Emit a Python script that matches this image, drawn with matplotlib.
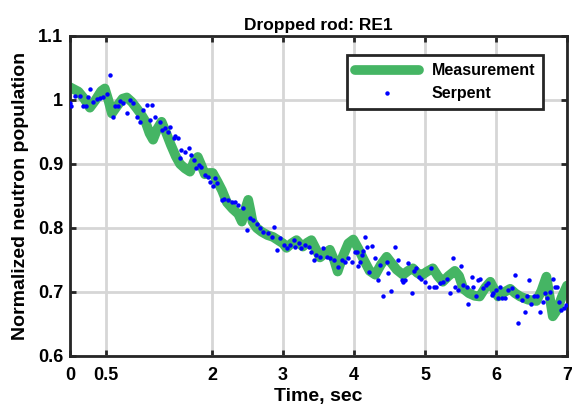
import matplotlib
matplotlib.use("Agg")
import matplotlib.pyplot as plt
import numpy as np

# Measurement (thick green curve)
meas_t = [0.00, 0.12, 0.20, 0.28, 0.36, 0.44, 0.49, 0.54, 0.59, 0.66, 0.74, 0.80, 0.87, 0.94,
          1.00, 1.06, 1.12, 1.17, 1.23, 1.29, 1.35, 1.42, 1.49, 1.55, 1.62, 1.69, 1.75, 1.80,
          1.85, 1.90, 1.96, 2.01, 2.08, 2.14, 2.21, 2.29, 2.37, 2.42, 2.47, 2.51, 2.54, 2.57,
          2.63, 2.70, 2.78, 2.86, 2.93, 3.00, 3.05, 3.12, 3.19, 3.24, 3.28, 3.34, 3.40, 3.46,
          3.52, 3.59, 3.66, 3.72, 3.77, 3.84, 3.92, 3.99, 4.06, 4.13, 4.22, 4.30, 4.38, 4.46,
          4.53, 4.60, 4.69, 4.76, 4.83, 4.89, 4.95, 5.03, 5.11, 5.18, 5.25, 5.33, 5.42, 5.48,
          5.54, 5.62, 5.70, 5.77, 5.85, 5.92, 5.98, 6.03, 6.12, 6.20, 6.27, 6.34, 6.45, 6.57,
          6.64, 6.71, 6.76, 6.80, 6.86, 6.93, 7.00]
meas_v = [1.020, 1.013, 1.002, 0.988, 1.000, 1.014, 1.018, 1.000, 0.979, 0.990, 1.002, 1.004, 0.997, 0.987,
          0.978, 0.967, 0.948, 0.938, 0.955, 0.966, 0.950, 0.930, 0.912, 0.900, 0.893, 0.888, 0.905, 0.911,
          0.898, 0.884, 0.886, 0.886, 0.872, 0.859, 0.840, 0.830, 0.822, 0.810, 0.830, 0.844, 0.828, 0.810,
          0.800, 0.794, 0.789, 0.786, 0.781, 0.776, 0.769, 0.776, 0.781, 0.775, 0.771, 0.777, 0.781, 0.768,
          0.754, 0.760, 0.766, 0.750, 0.732, 0.755, 0.776, 0.782, 0.768, 0.752, 0.733, 0.727, 0.743, 0.755,
          0.745, 0.735, 0.727, 0.733, 0.737, 0.730, 0.726, 0.732, 0.737, 0.725, 0.716, 0.725, 0.733, 0.725,
          0.705, 0.698, 0.694, 0.693, 0.707, 0.716, 0.703, 0.693, 0.700, 0.705, 0.698, 0.693, 0.688, 0.686,
          0.702, 0.724, 0.690, 0.662, 0.672, 0.693, 0.710]

# Serpent (blue dots)
serp_t = [0.00, 0.02, 0.07, 0.14, 0.19, 0.22, 0.26, 0.28, 0.33, 0.38, 0.42, 0.47, 0.52, 0.56, 0.60,
          0.63, 0.67, 0.70, 0.75, 0.80, 0.85, 0.89, 0.94, 0.99, 1.03, 1.08, 1.13, 1.16, 1.20, 1.27,
          1.29, 1.34, 1.38, 1.41, 1.46,
          1.48, 1.52, 1.55, 1.57, 1.62, 1.67, 1.70, 1.74, 1.78, 1.81, 1.85, 1.90, 1.94, 1.97, 2.02,
          2.04, 2.07, 2.14, 2.17, 2.23, 2.28, 2.32, 2.37, 2.43, 2.49, 2.54, 2.58, 2.63,
          2.68, 2.72, 2.79, 2.84, 2.87, 2.91, 2.96, 3.01, 3.05, 3.10, 3.15, 3.17, 3.22, 3.26, 3.31,
          3.36, 3.40, 3.43, 3.47, 3.52, 3.57, 3.62, 3.66, 3.72, 3.78, 3.83, 3.87, 3.92, 3.97,
          4.01, 4.04, 4.06, 4.08, 4.11, 4.13, 4.15, 4.18, 4.21, 4.25, 4.30, 4.34, 4.37, 4.41, 4.46,
          4.48, 4.52, 4.58, 4.62, 4.67, 4.69, 4.72, 4.76, 4.81, 4.84, 4.88, 4.92, 4.95, 5.00, 5.05,
          5.08, 5.12, 5.16, 5.21, 5.26, 5.31, 5.35, 5.40, 5.42, 5.47, 5.51,
          5.54, 5.59, 5.61, 5.66, 5.68, 5.72, 5.75, 5.78, 5.82, 5.86, 5.89, 5.94, 5.96, 6.00, 6.03,
          6.06, 6.09, 6.13, 6.17, 6.22, 6.27, 6.29, 6.31, 6.36, 6.41, 6.43, 6.46, 6.49, 6.54, 6.58,
          6.62, 6.66, 6.69, 6.72, 6.76, 6.80, 6.83, 6.86, 6.89, 6.92, 6.96, 6.99]
serp_v = [0.995, 0.990, 1.006, 1.006, 0.990, 0.990, 1.004, 1.017, 0.997, 1.001, 1.003, 1.005, 1.009, 1.039, 0.974,
          0.991, 0.990, 0.999, 0.995, 0.979, 1.000, 0.996, 0.974, 0.966, 0.984, 0.992, 0.969, 0.992, 0.974, 0.966,
          0.953, 0.956, 0.950, 0.958, 0.940,
          0.943, 0.940, 0.909, 0.922, 0.919, 0.925, 0.914, 0.906, 0.893, 0.898, 0.896, 0.883, 0.880, 0.872, 0.865,
          0.878, 0.870, 0.844, 0.846, 0.844, 0.841, 0.841, 0.836, 0.832, 0.797, 0.815, 0.813, 0.807,
          0.800, 0.794, 0.792, 0.786, 0.801, 0.766, 0.784, 0.773, 0.768, 0.773, 0.781, 0.771, 0.776, 0.768, 0.773,
          0.771, 0.763, 0.750, 0.758, 0.755, 0.768, 0.755, 0.753, 0.750, 0.739, 0.750, 0.747, 0.753, 0.747,
          0.763, 0.763, 0.740, 0.747, 0.758, 0.764, 0.786, 0.771, 0.732, 0.772, 0.753, 0.719, 0.742, 0.693, 0.747,
          0.729, 0.701, 0.770, 0.750, 0.719, 0.716, 0.719, 0.745, 0.698, 0.733, 0.738, 0.724, 0.721, 0.716, 0.708,
          0.737, 0.708, 0.708, 0.714, 0.716, 0.721, 0.698, 0.753, 0.708, 0.703, 0.740,
          0.711, 0.708, 0.682, 0.724, 0.708, 0.693, 0.719, 0.721, 0.706, 0.711, 0.714, 0.695, 0.698, 0.703, 0.690,
          0.708, 0.690, 0.690, 0.703, 0.706, 0.727, 0.693, 0.651, 0.688, 0.668, 0.693, 0.719, 0.682, 0.693, 0.693,
          0.668, 0.685, 0.698, 0.690, 0.700, 0.721, 0.708, 0.708, 0.685, 0.672, 0.675, 0.680]

xticks = [0, 0.5, 2, 3, 4, 5, 6, 7]
xtick_labels = ["0", "0.5", "2", "3", "4", "5", "6", "7"]
yticks = [0.6, 0.7, 0.8, 0.9, 1.0, 1.1]
ytick_labels = ["0.6", "0.7", "0.8", "0.9", "1", "1.1"]

plt.rcParams['font.family'] = ['Liberation Sans', 'DejaVu Sans']
plt.rcParams['font.weight'] = 'bold'

fig = plt.figure(figsize=(5.72, 4.18), dpi=100)
ax = fig.add_axes([70/572, (418-356)/418, (567-70)/572, (356-36)/418])

ax.plot(meas_t, meas_v, color='#45b564', lw=7, solid_joinstyle='round',
        solid_capstyle='round', label='Measurement', zorder=2)
ax.plot(serp_t, serp_v, 'o', color='#0000ff', ms=3.2, mew=0, label='Serpent', zorder=3)

ax.set_xlim(0, 7)
ax.set_ylim(0.6, 1.1)
ax.set_xticks(xticks)
ax.set_xticklabels(xtick_labels)
ax.set_yticks(yticks)
ax.set_yticklabels(ytick_labels)
ax.grid(True, color='#d6d6d6', lw=2)
ax.set_axisbelow(True)
ax.tick_params(direction='in', length=4, width=2, top=True, right=True,
               labelsize=13, color='#262626')
ax.tick_params(axis='x', pad=8)
ax.tick_params(axis='y', pad=5)
for s in ax.spines.values():
    s.set_linewidth(2)
    s.set_color('#262626')

ax.set_xlabel('Time, sec', fontsize=14, fontweight='bold', labelpad=3)
ax.set_ylabel('Normalized neutron population', fontsize=14, fontweight='bold', labelpad=6)
ax.set_title('Dropped rod: RE1', fontsize=12.5, fontweight='bold', pad=4)

leg = ax.legend(loc='upper right', bbox_to_anchor=(0.968, 0.965), fontsize=11.5,
                frameon=True, fancybox=False, handlelength=4.0, borderpad=0.5,
                labelspacing=0.5, markerscale=1.0, handletextpad=0.8)
leg.get_frame().set_edgecolor('#262626')
leg.get_frame().set_linewidth(2)
leg.get_frame().set_alpha(1)

fig.savefig('out.png', dpi=100)
